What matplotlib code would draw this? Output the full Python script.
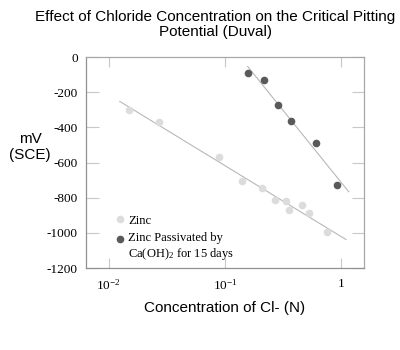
import matplotlib
matplotlib.use("Agg")
import matplotlib.pyplot as plt
import numpy as np

# data (concentration in N, potential in mV vs SCE)
zinc_conc = [0.0149, 0.0274, 0.0885, 0.139, 0.21, 0.27, 0.337, 0.358, 0.46, 0.525, 0.755]
zinc_mv = [-299, -371, -571, -705, -745, -811, -821, -870, -842, -889, -994]
pass_conc = [0.158, 0.217, 0.284, 0.372, 0.607, 0.929]
pass_mv = [-93, -131, -272, -362, -486, -728]

xticks = [0.01, 0.1, 1]
xtick_labels = ["10$^{-2}$", "10$^{-1}$", "1"]
yticks = [0, -200, -400, -600, -800, -1000, -1200]

plt.rcParams["mathtext.fontset"] = "custom"
plt.rcParams["mathtext.rm"] = "Liberation Serif"
plt.rcParams["mathtext.it"] = "Liberation Serif"

fig = plt.figure(figsize=(4, 3.5), dpi=100)
ax = fig.add_axes([0.215, 0.234, 0.695, 0.603])

# log-linear fits
def fit_line(xs, ys, lo, hi):
    k, b = np.polyfit(np.log10(xs), ys, 1)
    xx = np.array([lo, hi])
    return xx, k * np.log10(xx) + b

xx, yy = fit_line(zinc_conc, zinc_mv, 0.0125, 1.1)
ax.plot(xx, yy, color="#b8b8b8", lw=0.8, zorder=1)
xx, yy = fit_line(pass_conc, pass_mv, 0.157, 1.16)
ax.plot(xx, yy, color="#b8b8b8", lw=0.8, zorder=1)

ax.plot(zinc_conc, zinc_mv, "o", color="#dcdcdc", ms=5.5, mec="none",
        label="Zinc", zorder=2)
ax.plot(pass_conc, pass_mv, "o", color="#5a5a5a", ms=5.5, mec="none",
        label="Zinc Passivated by\nCa(OH)$_\\mathregular{2}$ for 15 days", zorder=2)

ax.set_xscale("log")
ax.set_xlim(0.0064, 1.57)
ax.set_ylim(-1200, 0)
ax.set_xticks(xticks)
ax.set_xticklabels(xtick_labels)
ax.minorticks_off()
ax.set_yticks(yticks)
ax.set_yticklabels([str(v) for v in yticks])

ax.tick_params(axis="x", direction="in", length=7, width=0.8, color="#c8c8c8",
               top=True, pad=7)
ax.tick_params(axis="y", direction="in", length=9, width=0.8, color="#c8c8c8",
               right=True, pad=6)
for lab in ax.get_xticklabels() + ax.get_yticklabels():
    lab.set_fontfamily("Liberation Serif")
    lab.set_fontsize(9.5)

for s in ["left", "bottom"]:
    ax.spines[s].set_color("#909090")
for s in ["top", "right"]:
    ax.spines[s].set_color("#a8a8a8")
for s in ax.spines.values():
    s.set_linewidth(0.9)

ax.set_title("Effect of Chloride Concentration on the Critical Pitting\nPotential (Duval)",
             fontfamily="Liberation Sans", fontsize=11, x=0.465, pad=15,
             linespacing=1.15)
ax.set_xlabel("Concentration of Cl- (N)", fontfamily="Liberation Sans", fontsize=11,
              labelpad=6)
fig.text(0.075, 0.58, "mV\n(SCE)", fontfamily="Liberation Sans", fontsize=11,
         ha="center", va="center", linespacing=1.2)

leg = ax.legend(loc="lower left", bbox_to_anchor=(0.085, 0.0), frameon=False,
                handlelength=0.6, handletextpad=0.4,
                borderaxespad=0.1, labelspacing=0.4,
                prop={"family": "Liberation Serif", "size": 9})
# put the second marker level with the first text line
h = leg.legend_handles[1]
h.set_ydata(np.asarray(h.get_ydata()) + 5.5)

fig.savefig("out.png", dpi=100)
